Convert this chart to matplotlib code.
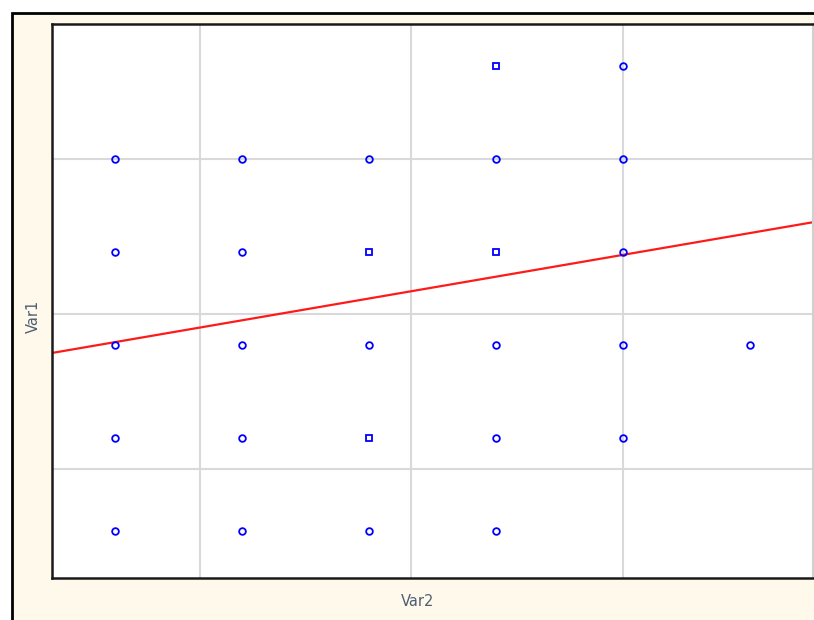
import numpy as np
import matplotlib.pyplot as plt
from matplotlib.patches import Rectangle

# single points (drawn as small circles)
x_pts = [15,
         3, 6, 9, 12, 15,
         3, 6, 15,
         3, 6, 9, 12, 15, 18,
         3, 6, 12, 15,
         3, 6, 9, 12]
y_pts = [18,
         15, 15, 15, 15, 15,
         12, 12, 12,
         9, 9, 9, 9, 9, 9,
         6, 6, 6, 6,
         3, 3, 3, 3]

# repeated points (drawn as small squares)
x_rep = [12, 9, 12, 9]
y_rep = [18, 12, 12, 6]

# fitted line Var1 = a + b * Var2
fit_intercept = 8.40
fit_slope = 0.234

x_lim = (1.5, 19.5)
y_lim = (1.5, 19.35)
grid_ticks = [5, 10, 15]

fig = plt.figure(figsize=(8.14, 6.2), dpi=100)
fig.patch.set_facecolor('white')

# cream panel behind the plot
panel = Rectangle((11.5 / 814, -0.2), 1.2, 1.2 - 12.5 / 620,
                  transform=fig.transFigure, facecolor='#fff9ec',
                  edgecolor='black', linewidth=2, zorder=-1)
fig.patches.append(panel)

ax = fig.add_axes([52 / 814, 1 - 578 / 620, 761 / 814, 554 / 620])
ax.set_facecolor('white')

ax.set_xlim(*x_lim)
ax.set_ylim(*y_lim)
ax.set_xticks(grid_ticks)
ax.set_yticks(grid_ticks)
ax.tick_params(length=0, labelbottom=False, labelleft=False)
ax.grid(True, color='#d9d9d9', linewidth=1.5)
ax.set_axisbelow(True)

for side in ['left', 'bottom', 'top']:
    ax.spines[side].set_color('#1a1a1a')
    ax.spines[side].set_linewidth(1.8)
ax.spines['right'].set_color('#d0d0d0')
ax.spines['right'].set_linewidth(1.5)

xs = np.array(x_lim)
ax.plot(xs, fit_intercept + fit_slope * xs, color='#ff1a1a', lw=1.6, zorder=2)

ax.plot(x_pts, y_pts, 'o', ls='none', mfc='none', mec='#0000ff',
        ms=4.8, mew=1.3, zorder=3)
ax.plot(x_rep, y_rep, 's', ls='none', mfc='none', mec='#0000ff',
        ms=4.4, mew=1.3, zorder=3)

fig.text(418 / 814, 1 - 601 / 620, 'Var2', ha='center', va='center',
         fontsize=10.5, color='#4f5d73')
fig.text(33 / 814, 1 - 316 / 620, 'Var1', ha='center', va='center',
         rotation=90, fontsize=10.5, color='#4f5d73')

fig.savefig('out.png', dpi=100)
